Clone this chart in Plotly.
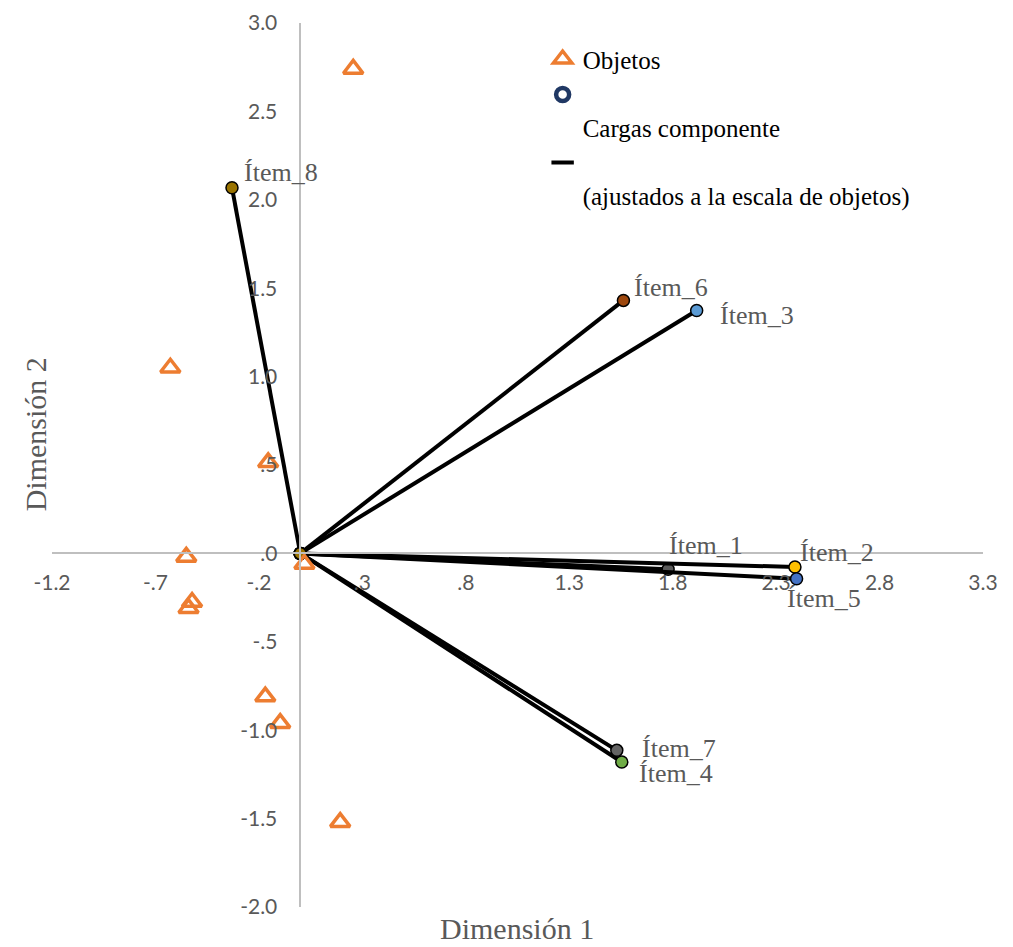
import plotly.graph_objects as go

# ---- data ----
obj_x = [0.256, -0.628, -0.155, -0.551, -0.523, -0.540, 0.020, -0.169, -0.097, 0.193]
obj_y = [2.74, 1.05, 0.515, -0.02, -0.275, -0.31, -0.06, -0.81, -0.96, -1.52]

items = ["Ítem_1", "Ítem_2", "Ítem_3", "Ítem_4", "Ítem_5", "Ítem_6", "Ítem_7", "Ítem_8"]
item_x = [1.778, 2.391, 1.916, 1.554, 2.399, 1.562, 1.530, -0.330]
item_y = [-0.090, -0.077, 1.374, -1.180, -0.143, 1.431, -1.114, 2.068]
item_colors = ["#5A5A5A", "#FFC000", "#5B9BD5", "#70AD47", "#4472C4", "#9E480E", "#636363", "#997300"]
# label offsets (pixels) relative to loading point
label_dx = [-1, 3, 21, 15, -12, 9, 23, 10]
label_dy = [24, 15, -5, -11, -20, 13, 2, 15]

x_range = [-1.2, 3.3]
y_range = [-2.0, 3.0]
x_tickvals = [-1.2, -0.7, -0.2, 0.3, 0.8, 1.3, 1.8, 2.3, 2.8, 3.3]
x_ticktext = ["-1.2", "-.7", "-.2", ".3", ".8", "1.3", "1.8", "2.3", "2.8", "3.3"]
y_tickvals = [-2.0, -1.5, -1.0, -0.5, 0.0, 0.5, 1.0, 1.5, 2.0, 2.5, 3.0]
y_ticktext = ["-2.0", "-1.5", "-1.0", "-.5", ".0", ".5", "1.0", "1.5", "2.0", "2.5", "3.0"]

SERIF = "Liberation Serif, Times New Roman, serif"
SANS = "Lato, Carlito, Calibri, sans-serif"
GRAY = "#595959"

fig = go.Figure()

# loading vectors
for name, x, y, c in zip(items, item_x, item_y, item_colors):
    fig.add_trace(go.Scatter(
        x=[0, x], y=[0, y], mode="lines+markers", name=name, showlegend=False,
        line=dict(color="black", width=4),
        marker=dict(size=12, color=c, line=dict(color="black", width=1.5)),
        hoverinfo="skip"))

# objects
fig.add_trace(go.Scatter(
    x=obj_x, y=obj_y, mode="markers", name="Objetos",
    marker=dict(symbol="triangle-up-open", size=17, color="#ED7D31",
                line=dict(color="#ED7D31", width=3.5))))

# legend-only entries
fig.add_trace(go.Scatter(
    x=[None], y=[None], mode="markers", name=" <br>Cargas componente",
    marker=dict(symbol="circle-open", size=13, color="#203864",
                line=dict(color="#203864", width=4.5))))
fig.add_trace(go.Scatter(
    x=[None], y=[None], mode="markers", name=" <br>(ajustados a la escala de objetos)",
    marker=dict(symbol="line-ew-open", size=18, color="black",
                line=dict(color="black", width=4))))

# item labels
for name, x, y, dx, dy in zip(items, item_x, item_y, label_dx, label_dy):
    fig.add_annotation(x=x, y=y, text=name, showarrow=False, xanchor="left", yanchor="middle",
                       xshift=dx, yshift=dy, font=dict(family=SERIF, size=26, color=GRAY))

xpos = (0 - y_range[0]) / (y_range[1] - y_range[0])
ypos = (0 - x_range[0]) / (x_range[1] - x_range[0])

fig.update_layout(
    width=1005, height=939,
    margin=dict(l=44, r=30, t=15, b=40, autoexpand=False),
    paper_bgcolor="white", plot_bgcolor="white",
    xaxis=dict(range=x_range, anchor="free", position=xpos, showgrid=False, zeroline=False,
               automargin=False,
               showline=True, linecolor="#BFBFBF", linewidth=1.5,
               tickvals=x_tickvals, ticktext=x_ticktext, ticks="outside", ticklen=11,
               tickcolor="rgba(0,0,0,0)", tickfont=dict(family=SANS, size=21, color=GRAY)),
    yaxis=dict(range=y_range, anchor="free", position=ypos, showgrid=False, zeroline=False,
               automargin=False,
               showline=True, linecolor="#BFBFBF", linewidth=1.5,
               tickvals=y_tickvals, ticktext=y_ticktext, ticks="outside", ticklen=18,
               tickcolor="rgba(0,0,0,0)", tickfont=dict(family=SANS, size=21, color=GRAY)),
    legend=dict(x=0.527, y=0.985, xanchor="left", yanchor="top", valign="top",
                font=dict(family=SERIF, size=25, color="black"), bgcolor="rgba(0,0,0,0)",
                itemsizing="trace", tracegroupgap=0),
    showlegend=True,
)

fig.add_annotation(xref="paper", yref="paper", x=0.4995, y=-0.024, text="Dimensión 1",
                   showarrow=False, xanchor="center", yanchor="middle",
                   font=dict(family=SERIF, size=30, color=GRAY))
fig.add_annotation(xref="paper", yref="paper", x=-0.018, y=0.535, text="Dimensión 2",
                   showarrow=False, xanchor="center", yanchor="middle", textangle=-90,
                   font=dict(family=SERIF, size=30, color=GRAY))

fig.write_html("out.html")
